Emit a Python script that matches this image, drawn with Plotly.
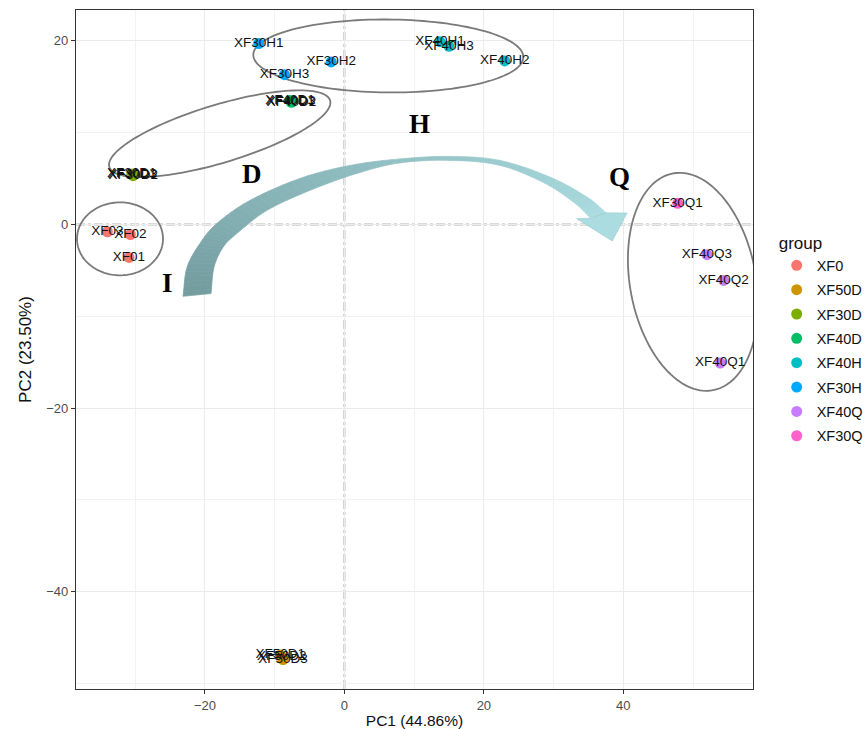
import plotly.graph_objects as go
import numpy as np

# ---------------- data ----------------
group_order = ["XF0", "XF50D", "XF30D", "XF40D", "XF40H", "XF30H", "XF40Q", "XF30Q"]
group_colors = ["#F8766D", "#CD9600", "#7CAE00", "#00BE67", "#00BFC4", "#00A9FF", "#C77CFF", "#FF61CC"]

sample_names = ["XF01", "XF02", "XF03",
                "XF50D1", "XF50D2", "XF50D3",
                "XF30D1", "XF30D2", "XF30D3",
                "XF40D1", "XF40D2", "XF40D3",
                "XF40H1", "XF40H2", "XF40H3",
                "XF30H1", "XF30H2", "XF30H3",
                "XF40Q1", "XF40Q2", "XF40Q3",
                "XF30Q1"]
sample_group = ["XF0"] * 3 + ["XF50D"] * 3 + ["XF30D"] * 3 + ["XF40D"] * 3 + \
               ["XF40H"] * 3 + ["XF30H"] * 3 + ["XF40Q"] * 3 + ["XF30Q"]
pc1 = [-30.9, -30.7, -34.0,
       -9.2, -9.0, -8.8,
       -30.5, -30.3, -30.4,
       -7.8, -7.6, -7.7,
       13.7, 23.0, 15.0,
       -12.3, -1.9, -8.6,
       53.9, 54.4, 52.0,
       47.8]
pc2 = [-3.6, -1.1, -0.8,
       -46.9, -47.1, -47.4,
       5.5, 5.3, 5.4,
       13.5, 13.3, 13.4,
       19.9, 17.8, 19.4,
       19.7, 17.7, 16.3,
       -15.1, -6.1, -3.3,
       2.3]

x_ticks = [-20, 0, 20, 40]
y_ticks = [-40, -20, 0, 20]
x_title = "PC1 (44.86%)"
y_title = "PC2 (23.50%)"
cluster_letters = ["H", "D", "Q", "I"]
letter_x = [10.7, -13.3, 39.5, -25.4]
letter_y = [10.9, 5.5, 5.2, -6.4]

# ---------------- layout geometry ----------------
W, H = 866, 729
ML, MR, MT, MB = 76, 113, 9.5, 40
XR = [-38.5, 58.6]
YR = [-50.6, 23.35]
PW = W - ML - MR
PH = H - MT - MB


def px2x(px):
    return XR[0] + (px - ML) / PW * (XR[1] - XR[0])


def py2y(py):
    return YR[1] - (py - MT) / PH * (YR[1] - YR[0])


def path_from_px(pts, close=True):
    s = ""
    for i, (px, py) in enumerate(pts):
        s += ("M" if i == 0 else "L") + f"{px2x(px):.4f},{py2y(py):.4f}"
    if close:
        s += "Z"
    return s


def ellipse_px(cx, cy, a, b, theta_deg, n=140):
    th = np.radians(theta_deg)
    t = np.linspace(0, 2 * np.pi, n)
    xs = cx + a * np.cos(t) * np.cos(th) - b * np.sin(t) * np.sin(th)
    ys = cy - (a * np.cos(t) * np.sin(th) + b * np.sin(t) * np.cos(th))
    return list(zip(xs, ys))


def catmull(pts, sub=8):
    p = np.array(pts, dtype=float)
    p = np.vstack([p[0] * 2 - p[1], p, p[-1] * 2 - p[-2]])
    out = []
    for i in range(1, len(p) - 2):
        p0, p1, p2, p3 = p[i - 1], p[i], p[i + 1], p[i + 2]
        for k in range(sub):
            t = k / sub
            t2, t3 = t * t, t * t * t
            pt = 0.5 * ((2 * p1) + (-p0 + p2) * t + (2 * p0 - 5 * p1 + 4 * p2 - p3) * t2 +
                        (-p0 + 3 * p1 - 3 * p2 + p3) * t3)
            out.append(tuple(pt))
    out.append(tuple(p[-2]))
    return out


fig = go.Figure()

for g, c in zip(group_order, group_colors):
    idx = [i for i, sg in enumerate(sample_group) if sg == g]
    fig.add_trace(go.Scatter(
        x=[pc1[i] for i in idx], y=[pc2[i] for i in idx],
        text=[sample_names[i] for i in idx],
        mode="markers+text", textposition="middle center",
        textfont=dict(family="Liberation Sans, Arial", size=13.5, color="#111111"),
        marker=dict(color=c, size=11),
        name=g, legendgroup=g,
    ))

shapes = []
# zero lines
shapes.append(dict(type="line", xref="x", yref="paper", x0=0, x1=0, y0=0, y1=1,
                   line=dict(color="#b5b5b5", width=2, dash="dashdot"), layer="between"))
shapes.append(dict(type="line", xref="paper", yref="y", x0=0, x1=1, y0=0, y1=0,
                   line=dict(color="#b5b5b5", width=2, dash="dashdot"), layer="between"))

# curved arrow with gradient
outer = [(183, 296), (187, 267), (200, 243), (217, 223), (250, 200), (300, 178), (350, 165),
         (400, 158.5), (450, 156), (500, 160), (550, 176.7), (587, 196.7), (607, 213.3)]
inner = [(211, 293.3), (214, 267), (223, 247), (237, 233), (267, 210), (310, 190), (357, 173),
         (400, 162.5), (450, 160), (500, 165), (545, 183), (575, 203), (590, 217.3)]
outer_s = catmull(outer, 6)
inner_s = catmull(inner, 6)
c0 = np.array([116, 157, 160])
c1 = np.array([170, 220, 224])
nseg = len(outer_s) - 1
for i in range(nseg):
    f = i / (nseg - 1)
    col = c0 + (c1 - c0) * f
    colstr = f"rgb({int(col[0])},{int(col[1])},{int(col[2])})"
    quad = [outer_s[i], outer_s[i + 1], inner_s[i + 1], inner_s[i]]
    shapes.append(dict(type="path", xref="x", yref="y", path=path_from_px(quad),
                       fillcolor=colstr, line=dict(color=colstr, width=0.7), layer="between"))
head = [(606, 212.5), (627, 212.7), (612.3, 240.7), (576.7, 218.3), (591, 217.8)]
shapes.append(dict(type="path", xref="x", yref="y", path=path_from_px(head),
                   fillcolor="rgb(170,220,224)", line=dict(color="rgb(150,200,205)", width=0.6),
                   layer="between"))

# ellipses
ell_col = "#7a7a7a"
for (cx, cy, a, b, th) in [(120, 238.5, 43, 36.5, 0),
                           (219.7, 133.3, 115.3, 29, 16.8),
                           (388.3, 55.5, 135, 36.5, -0.5),
                           (693, 281.5, 110.3, 63, 100.4)]:
    shapes.append(dict(type="path", xref="x", yref="y",
                       path=path_from_px(ellipse_px(cx, cy, a, b, th)),
                       line=dict(color=ell_col, width=1.8), layer="between"))

annotations = []
for t, ax_, ay_ in zip(cluster_letters, letter_x, letter_y):
    annotations.append(dict(x=ax_, y=ay_, xref="x", yref="y", text=f"<b>{t}</b>", showarrow=False,
                            font=dict(family="Liberation Serif, Times New Roman", size=27, color="#000000")))

fig.update_layout(
    width=W, height=H,
    margin=dict(l=ML, r=MR, t=MT, b=MB, pad=0, autoexpand=False),
    paper_bgcolor="white", plot_bgcolor="white",
    shapes=shapes, annotations=annotations,
    font=dict(family="Liberation Sans, Arial"),
    legend=dict(
        title=dict(text="group", font=dict(size=17, color="#111111")),
        font=dict(size=14.5, color="#111111"),
        x=1.035, xanchor="left", y=0.68, yanchor="top",
        tracegroupgap=2.5, bgcolor="rgba(0,0,0,0)",
    ),
    xaxis=dict(
        range=XR, tickvals=x_ticks, ticks="outside", ticklen=4, tickcolor="#333333",
        tickfont=dict(size=13, color="#4d4d4d"), automargin=False,
        showgrid=True, gridcolor="#ebebeb", gridwidth=1,
        minor=dict(dtick=10, tick0=-30, showgrid=True, gridcolor="#f2f2f2", gridwidth=0.6),
        zeroline=False, showline=True, mirror=True, linecolor="#333333", linewidth=1.2,
        title=dict(text=x_title, font=dict(size=15.5, color="#111111"), standoff=5),
    ),
    yaxis=dict(
        range=YR, tickvals=y_ticks, ticks="outside", ticklen=4, tickcolor="#333333",
        tickfont=dict(size=13, color="#4d4d4d"), automargin=False,
        showgrid=True, gridcolor="#ebebeb", gridwidth=1,
        minor=dict(dtick=10, tick0=-30, showgrid=True, gridcolor="#f2f2f2", gridwidth=0.6),
        zeroline=False, showline=True, mirror=True, linecolor="#333333", linewidth=1.2,
        title=dict(text=y_title, font=dict(size=17, color="#111111"), standoff=10),
    ),
)

fig.write_html("out.html", config={"displayModeBar": False},
               post_script="document.body.style.margin='0';document.body.style.padding='0';")
